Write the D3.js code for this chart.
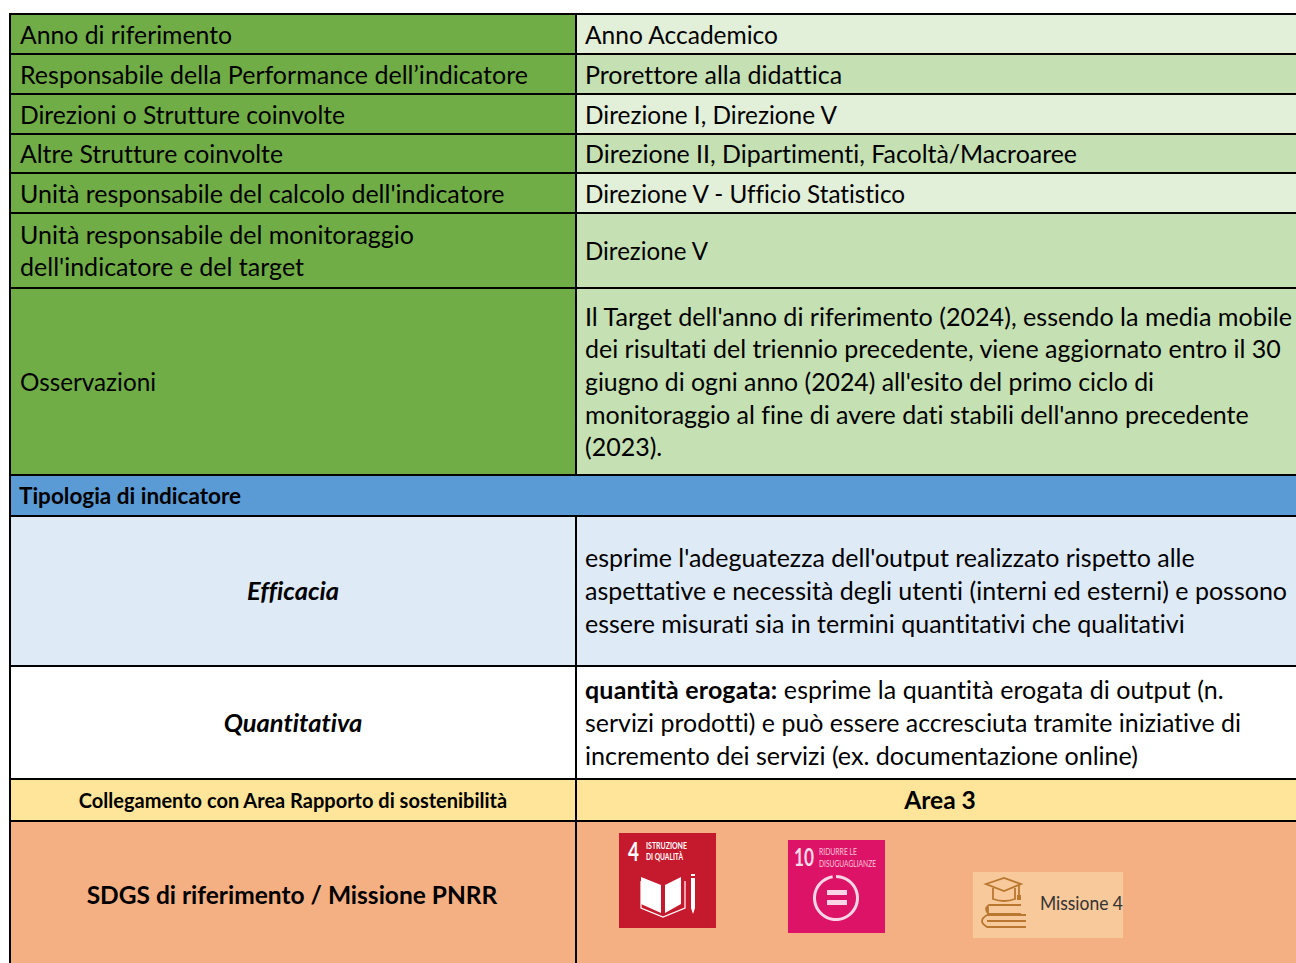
<!DOCTYPE html>
<html>
<head>
<meta charset="utf-8">
<script src="https://cdn.jsdelivr.net/npm/d3@7"></script>
<style>
html,body{margin:0;padding:0;background:#fff;overflow:hidden}
svg{display:block}
text{font-family:Lato,"Open Sans",sans-serif;fill:#000;font-variant-ligatures:none}
</style>
</head>
<body>
<script>
// table content
const leftLabels = ["Anno di riferimento","Responsabile della Performance dell’indicatore","Direzioni o Strutture coinvolte","Altre Strutture coinvolte","Unità responsabile del calcolo dell'indicatore",["Unità responsabile del monitoraggio","dell'indicatore e del target"],"Osservazioni"];
const rightLabels = ["Anno Accademico","Prorettore alla didattica","Direzione I, Direzione V","Direzione II, Dipartimenti, Facoltà/Macroaree","Direzione V - Ufficio Statistico","Direzione V",
 ["Il Target dell'anno di riferimento (2024), essendo la media mobile","dei risultati del triennio precedente, viene aggiornato entro il 30","giugno di ogni anno (2024) all'esito del primo ciclo di","monitoraggio al fine di avere dati stabili dell'anno precedente","(2023)."]];
const sectionTitle = "Tipologia di indicatore";
const efficaciaLabel = "Efficacia";
const efficaciaText = ["esprime l'adeguatezza dell'output realizzato rispetto alle","aspettative e necessità degli utenti (interni ed esterni) e possono","essere misurati sia in termini quantitativi che qualitativi"];
const quantLabel = "Quantitativa";
const quantLead = "quantità erogata:";
const quantText = [" esprime la quantità erogata di output (n.","servizi prodotti) e può essere accresciuta tramite iniziative di","incremento dei servizi (ex. documentazione online)"];
const areaLabel = "Collegamento con Area Rapporto di sostenibilità";
const areaValue = "Area 3";
const sdgLabel = "SDGS di riferimento / Missione PNRR";

const W = 1296, H = 963;
const colX = d3.scaleOrdinal().domain(["left","split","right"]).range([10,576,1300]);
// row edges in px
const edges = [14,54,94,134,173,213,288,475,516,666,779,821,975];
const lineH = 32.6, fs = 25;

// Lato is not Calibri: lines that drift get squeezed to the width seen in the picture
const fitWidth = new Map([
  ["Anno di riferimento",212],["Responsabile della Performance dell’indicatore",508],
  ["Direzioni o Strutture coinvolte",325],["Altre Strutture coinvolte",263],
  ["dell'indicatore e del target",284],["Osservazioni",136],
  ["Anno Accademico",193],["Direzione I, Direzione V",252],
  ["Direzione II, Dipartimenti, Facoltà/Macroaree",492],["Direzione V - Ufficio Statistico",320],
  ["Direzione V",123],[rightLabels[6][0],707],[rightLabels[6][2],569],
  [quantText[1],656],[quantText[2],553]
]);

const svg = d3.select("body").append("svg").attr("width",W).attr("height",H);

function fill(i, x0, x1, color){
  svg.append("rect").attr("x",x0).attr("y",edges[i]).attr("width",x1-x0).attr("height",edges[i+1]-edges[i]).attr("fill",color);
}
function label(lines, x, rowIdx, opts){
  opts = opts || {};
  lines = [].concat(lines);
  const mid = (edges[rowIdx]+edges[rowIdx+1])/2 + (opts.dy===undefined?1:opts.dy);
  const size = opts.size || fs;
  const lh = opts.lh || lineH;
  lines.forEach((t,k)=>{
    const el = svg.append("text")
      .attr("x",x)
      .attr("y",mid + (k-(lines.length-1)/2)*lh + size*0.34)
      .attr("text-anchor",opts.anchor||"start")
      .attr("font-size",size)
      .attr("font-weight",opts.weight||400)
      .attr("font-style",opts.italic?"italic":"normal")
      .text(t);
    if (fitWidth.has(t)) el.attr("textLength",fitWidth.get(t)).attr("lengthAdjust","spacingAndGlyphs");
  });
}

const xL = colX("left"), xS = colX("split"), xR = colX("right");
const green = "#70ad47", lightA = "#e2efd9", lightB = "#c5e0b3";
const rightFill = [lightA,lightB,lightA,lightB,lightA,lightB,lightB];

leftLabels.forEach((t,i)=>{
  fill(i,xL,xS,green);
  fill(i,xS,xR,rightFill[i]);
  label(t,xL+10,i);
  label(rightLabels[i],xS+9,i);
});
fill(7,xL,xR,"#5b9bd5");
label(sectionTitle,xL+9,7,{size:22.5,weight:700});
fill(8,xL,xS,"#deeaf6"); fill(8,xS,xR,"#deeaf6");
label(efficaciaLabel,(xL+xS)/2,8,{anchor:"middle",weight:700,italic:true,size:25.5,dy:0});
label(efficaciaText,xS+9,8,{dy:0.5});
fill(9,xL,xR,"#ffffff");
label(quantLabel,(xL+xS)/2,9,{anchor:"middle",weight:700,italic:true,size:25.5});
label([" ",quantText[1],quantText[2]],xS+9,9);
const q = svg.append("text").attr("x",xS+9).attr("y",(edges[9]+edges[10])/2+1-lineH+fs*0.34).attr("font-size",fs);
q.append("tspan").attr("font-weight",700).attr("letter-spacing",0.18).text(quantLead);
q.append("tspan").attr("xml:space","preserve").attr("letter-spacing",0.07).text(quantText[0]);
fill(10,xL,xS,"#ffe599"); fill(10,xS,xR,"#ffe599");
label(areaLabel,(xL+xS)/2,10,{anchor:"middle",weight:700,size:20});
label(areaValue,(xS+1306)/2-1,10,{anchor:"middle",weight:700,size:24.6});
fill(11,xL,xS,"#f4b083"); fill(11,xS,xR,"#f4b083");
label(sdgLabel,(xL+xS)/2-1,11,{anchor:"middle",weight:700,size:24.5,dy:-2});

// borders
const hLines = edges.slice(0,-1);
svg.selectAll("line.h").data(hLines).enter().append("line").attr("class","h")
  .attr("x1",xL).attr("x2",W).attr("y1",d=>d).attr("y2",d=>d).attr("stroke","#000").attr("stroke-width",2);
svg.append("line").attr("x1",xL).attr("x2",xL).attr("y1",edges[0]-1).attr("y2",H).attr("stroke","#000").attr("stroke-width",2);
svg.selectAll("line.v").data([[0,7],[8,10],[10,11],[11,12]]).enter().append("line").attr("class","v")
  .attr("x1",xS).attr("x2",xS).attr("y1",d=>edges[d[0]]).attr("y2",d=>edges[d[1]]).attr("stroke","#000").attr("stroke-width",2);

// SDG 4 tile
const s4 = svg.append("g").attr("transform","translate(619,833)");
s4.append("rect").attr("width",97).attr("height",95).attr("fill","#c5192d");
s4.append("text").attr("x",9).attr("y",28).attr("font-size",27).attr("font-weight",700).style("fill","#fff").attr("textLength",11).attr("lengthAdjust","spacingAndGlyphs").text("4");
s4.append("text").attr("x",27).attr("y",16).attr("font-size",10).attr("font-weight",700).style("fill","#fff").attr("textLength",41).attr("lengthAdjust","spacingAndGlyphs").text("ISTRUZIONE");
s4.append("text").attr("x",27).attr("y",27).attr("font-size",10).attr("font-weight",700).style("fill","#fff").attr("textLength",37).attr("lengthAdjust","spacingAndGlyphs").text("DI QUALITÀ");
s4.append("path").attr("d","M22 44 L42 52 V80 L22 71Z M46 52 L62 44 V71 L46 80Z").attr("fill","#fff");
s4.append("path").attr("d","M22 48V75L44 84L66 75V48").attr("fill","none").attr("stroke","#fff").attr("stroke-width",1.2);
s4.append("path").attr("d","M72 41h4v2h-4z M72 45h4V75l-2 6-2-6z").attr("fill","#fff");

// SDG 10 tile
const s10 = svg.append("g").attr("transform","translate(788,840)");
s10.append("rect").attr("width",97).attr("height",93).attr("fill","#dd1367");
s10.append("text").attr("x",6).attr("y",26).attr("font-size",25).attr("font-weight",700).style("fill","#f9dbe8").attr("textLength",20).attr("lengthAdjust","spacingAndGlyphs").text("10");
s10.append("text").attr("x",31).attr("y",15).attr("font-size",9).style("fill","#f7c5da").attr("textLength",38).attr("lengthAdjust","spacingAndGlyphs").text("RIDURRE LE");
s10.append("text").attr("x",31).attr("y",27).attr("font-size",9).style("fill","#f7c5da").attr("textLength",57).attr("lengthAdjust","spacingAndGlyphs").text("DISUGUAGLIANZE");
s10.append("path").attr("d",d3.arc().innerRadius(20).outerRadius(23).startAngle(0).endAngle(Math.PI*1.95)()).attr("transform","translate(48,58)").attr("fill","#f9d5e5");
s10.append("rect").attr("x",39).attr("y",50).attr("width",20).attr("height",5).attr("fill","#f9d5e5");
s10.append("rect").attr("x",39).attr("y",60).attr("width",20).attr("height",5).attr("fill","#f9d5e5");

// Missione 4 badge
const m4 = svg.append("g").attr("transform","translate(973,872)");
m4.append("rect").attr("width",150).attr("height",66).attr("fill","#f7c99b");
const ic = "#b9772f";
m4.append("path").attr("d","M13 12 L31 6 L48 12 L31 19Z M20 16V27Q31 31 42 27V16 M46 13V23").attr("fill","none").attr("stroke",ic).attr("stroke-width",1.8);
m4.append("rect").attr("x",44).attr("y",23).attr("width",4).attr("height",5).attr("fill",ic);
m4.append("path").attr("d","M48 33H16Q10 37 16 42H48 M14 43H53 M53 55H14Q4 49 14 43 M14 49H53 M15 33V42").attr("fill","none").attr("stroke",ic).attr("stroke-width",1.8);
m4.append("text").attr("x",67).attr("y",38).attr("font-size",18.5).style("fill","#333").attr("textLength",83).attr("lengthAdjust","spacingAndGlyphs").text("Missione 4");
</script>
</body>
</html>
